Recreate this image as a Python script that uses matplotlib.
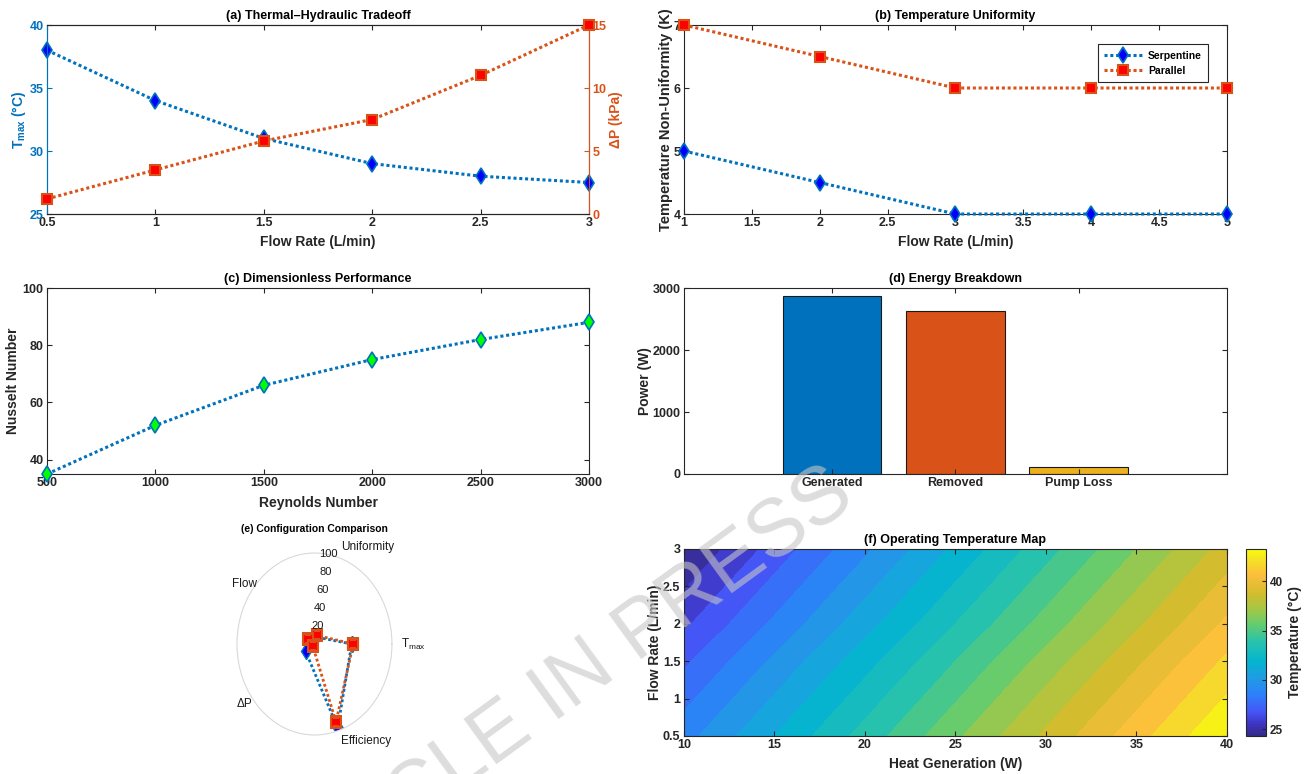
import numpy as np
import matplotlib.pyplot as plt
from matplotlib.colors import LinearSegmentedColormap, Normalize
import matplotlib.cm as cm

# ---- data ----
flow_a = [0.5, 1.0, 1.5, 2.0, 2.5, 3.0]
tmax_a = [38, 34, 31, 29, 28, 27.5]
dp_a = [1.2, 3.5, 5.8, 7.5, 11.0, 15.0]

flow_b = [1, 2, 3, 4, 5]
serp_b = [5.0, 4.5, 4.0, 4.0, 4.0]
par_b = [7.0, 6.5, 6.0, 6.0, 6.0]

re_c = [500, 1000, 1500, 2000, 2500, 3000]
nu_c = [35, 52, 66, 75, 82, 88]

energy_labels = ['Generated', 'Removed', 'Pump Loss']
energy_vals = [2870, 2630, 110]

radar_labels = ['T$_{max}$', 'Uniformity', 'Flow', '\u0394P', 'Efficiency']
radar_serp = [48, 8, 6, 14, 97]
radar_par = [50, 10, 10, 3, 90]
radar_ticks = [20, 40, 60, 80, 100]

heat_f = [10, 15, 20, 25, 30, 35, 40]
flow_f = [0.5, 1.0, 1.5, 2.0, 2.5, 3.0]
temp_f = [
    [28.9, 31.3, 33.7, 36.1, 38.5, 40.9, 43.3],
    [28.0, 30.4, 32.8, 35.2, 37.6, 40.0, 42.4],
    [27.1, 29.5, 31.9, 34.3, 36.7, 39.1, 41.5],
    [26.1, 28.5, 30.9, 33.3, 35.7, 38.1, 40.5],
    [25.2, 27.6, 30.0, 32.4, 34.8, 37.2, 39.6],
    [24.3, 26.7, 29.1, 31.5, 33.9, 36.3, 38.7],
]

# ---- style ----
plt.rcParams['font.family'] = ['Liberation Sans', 'DejaVu Sans']
plt.rcParams['mathtext.default'] = 'regular'
plt.rcParams['font.weight'] = 'bold'
plt.rcParams['axes.labelweight'] = 'bold'
plt.rcParams['axes.titleweight'] = 'bold'
plt.rcParams['font.size'] = 9
plt.rcParams['axes.titlesize'] = 9
plt.rcParams['axes.labelsize'] = 10
plt.rcParams['xtick.direction'] = 'in'
plt.rcParams['ytick.direction'] = 'in'
plt.rcParams['xtick.top'] = True
plt.rcParams['ytick.right'] = True
plt.rcParams['xtick.major.size'] = 3.5
plt.rcParams['ytick.major.size'] = 3.5
plt.rcParams['xtick.major.pad'] = 2.5
plt.rcParams['ytick.major.pad'] = 2.5
plt.rcParams['axes.edgecolor'] = '0.15'
plt.rcParams['axes.linewidth'] = 0.8
plt.rcParams['xtick.color'] = '0.15'
plt.rcParams['ytick.color'] = '0.15'
plt.rcParams['axes.labelcolor'] = '0.15'
plt.rcParams['axes.titlepad'] = 4

BLUE = (0, 0.447, 0.741)
ORANGE = (0.85, 0.325, 0.098)
YELLOW = (0.929, 0.694, 0.125)
DOT = (0, (1, 0.9))

serp_style = dict(color=BLUE, lw=2.2, ls=DOT, marker='d', ms=8,
                  mfc=(0, 0, 1), mec=BLUE, mew=1.2)
par_style = dict(color=ORANGE, lw=2.2, ls=DOT, marker='s', ms=6.5,
                 mfc=(1, 0, 0), mec=ORANGE, mew=1.5)

fig = plt.figure(figsize=(13.1, 7.74), dpi=100)

# (a)
ax = fig.add_axes([0.0359, 0.7235, 0.4137, 0.2442])
ax.plot(flow_a, tmax_a, **serp_style, clip_on=False, zorder=3)
ax.set_xlim(0.5, 3)
ax.set_ylim(25, 40)
ax.set_yticks([25, 30, 35, 40])
ax.set_xticks([0.5, 1, 1.5, 2, 2.5, 3])
ax.set_xticklabels(['0.5', '1', '1.5', '2', '2.5', '3'])
ax.tick_params(axis='y', colors=BLUE, right=False)
ax.spines['left'].set_color(BLUE)
ax.set_ylabel('T$_{max}$ (\u00b0C)', color=BLUE, labelpad=1)
ax.set_xlabel('Flow Rate (L/min)', labelpad=4)
ax.set_title('(a) Thermal\u2013Hydraulic Tradeoff')
ax2 = ax.twinx()
ax2.plot(flow_a, dp_a, **par_style, clip_on=False, zorder=3)
ax2.set_ylim(0, 15)
ax2.set_yticks([0, 5, 10, 15])
ax2.tick_params(axis='y', colors=ORANGE, left=False, right=True)
ax2.spines['right'].set_color(ORANGE)
ax2.spines['left'].set_color(BLUE)
ax2.set_ylabel('\u0394P (kPa)', color=ORANGE, labelpad=2)

# (b)
ax = fig.add_axes([0.5221, 0.7235, 0.4145, 0.2442])
ax.plot(flow_b, serp_b, **serp_style, clip_on=False, zorder=3, label='Serpentine')
ax.plot(flow_b, par_b, **par_style, clip_on=False, zorder=3, label='Parallel')
ax.set_xlim(1, 5)
ax.set_ylim(4, 7)
ax.set_yticks([4, 5, 6, 7])
ax.set_xticks([1, 1.5, 2, 2.5, 3, 3.5, 4, 4.5, 5])
ax.set_xticklabels(['1', '1.5', '2', '2.5', '3', '3.5', '4', '4.5', '5'])
ax.set_ylabel('Temperature Non-Uniformity (K)', labelpad=0, fontsize=10.5)
ax.set_xlabel('Flow Rate (L/min)', labelpad=4)
ax.set_title('(b) Temperature Uniformity')
leg = ax.legend(loc='upper right', bbox_to_anchor=(0.975, 0.925), fontsize=7.5,
                fancybox=False, edgecolor='0.15', framealpha=1, handlelength=3.6,
                borderpad=0.6, labelspacing=0.5, handletextpad=0.6)
leg.get_frame().set_linewidth(0.8)

# (c)
ax = fig.add_axes([0.0359, 0.3876, 0.4137, 0.2403])
ax.plot(re_c, nu_c, color=BLUE, lw=2.2, ls=DOT, marker='d', ms=8,
        mfc=(0, 1, 0), mec=BLUE, mew=1.2, clip_on=False, zorder=3)
ax.set_xlim(500, 3000)
ax.set_ylim(35, 100)
ax.set_yticks([40, 60, 80, 100])
ax.set_xticks([500, 1000, 1500, 2000, 2500, 3000])
ax.set_ylabel('Nusselt Number', labelpad=2)
ax.set_xlabel('Reynolds Number', labelpad=5)
ax.set_title('(c) Dimensionless Performance')

# (d)
ax = fig.add_axes([0.5221, 0.3876, 0.4145, 0.2403])
pos = np.arange(1, len(energy_vals) + 1)
ax.bar(pos, energy_vals, width=0.8, color=[BLUE, ORANGE, YELLOW],
       edgecolor='0.1', linewidth=0.8)
ax.set_xlim(-0.2, 4.2)
ax.set_ylim(0, 3000)
ax.set_yticks([0, 1000, 2000, 3000])
ax.set_xticks(pos)
ax.set_xticklabels(energy_labels)
ax.set_ylabel('Power (W)', labelpad=0)
ax.set_title('(d) Energy Breakdown')

# (e)
ax = fig.add_axes([0.1809, 0.0504, 0.1183, 0.2351], projection='polar')
ang = np.linspace(0, 2 * np.pi, len(radar_labels), endpoint=False)
ang_c = np.append(ang, ang[0])
ax.plot(ang_c, radar_serp + radar_serp[:1], color=BLUE, lw=2, ls=DOT,
        marker='d', ms=8, mfc=(0, 0, 1), mec=BLUE, mew=1)
ax.plot(ang_c, radar_par + radar_par[:1], color=ORANGE, lw=2, ls=DOT,
        marker='s', ms=6.5, mfc=(1, 0, 0), mec=ORANGE, mew=1.5)
ax.set_aspect('auto')
ax.set_ylim(0, 100)
ax.set_yticks(radar_ticks)
ax.set_yticklabels([])
ax.set_xticks([])
ax.grid(False)
ax.spines['polar'].set_color('0.85')
ax.spines['polar'].set_linewidth(0.8)
for r in radar_ticks:
    ax.text(np.deg2rad(80), r, str(r), ha='center', va='center', fontsize=8,
            fontweight='normal', color='0.1')
for a, lab in zip(ang, radar_labels):
    ha = 'center' if np.cos(a) < -0.5 else 'left'
    ax.text(a, 112, lab, ha=ha, va='center', fontsize=8.5,
            fontweight='normal', color='0.1')
ax.set_title('(e) Configuration Comparison', y=1.085, fontsize=7.5)

# (f)
parula = LinearSegmentedColormap.from_list('parula', [
    (0.00, (0.2081, 0.1663, 0.5292)),
    (0.06, (0.2420, 0.2000, 0.7500)),
    (0.13, (0.2700, 0.3400, 0.9700)),
    (0.22, (0.1800, 0.5000, 0.9800)),
    (0.30, (0.1300, 0.6000, 0.9000)),
    (0.40, (0.0200, 0.7100, 0.8100)),
    (0.50, (0.1500, 0.7600, 0.6800)),
    (0.60, (0.4000, 0.8000, 0.4300)),
    (0.68, (0.6500, 0.7800, 0.2700)),
    (0.76, (0.8200, 0.7400, 0.1800)),
    (0.86, (0.9900, 0.7400, 0.2400)),
    (0.94, (0.9600, 0.8800, 0.1500)),
    (1.00, (0.9769, 0.9839, 0.0538)),
])
ax = fig.add_axes([0.5221, 0.0491, 0.4145, 0.2416])
temp = np.array(temp_f)
norm = Normalize(temp.min(), temp.max())
levels = np.linspace(temp.min(), temp.max(), 20)
ax.contourf(heat_f, flow_f, temp, levels=levels, cmap=parula, norm=norm)
ax.set_xlim(10, 40)
ax.set_ylim(0.5, 3)
ax.set_xticks([10, 15, 20, 25, 30, 35, 40])
ax.set_yticks([0.5, 1, 1.5, 2, 2.5, 3])
ax.set_yticklabels(['0.5', '1', '1.5', '2', '2.5', '3'])
ax.set_xlabel('Heat Generation (W)', labelpad=4)
ax.set_ylabel('Flow Rate (L/min)', labelpad=1)
ax.set_title('(f) Operating Temperature Map')
cax = fig.add_axes([0.9511, 0.0491, 0.0153, 0.2416])
cb = fig.colorbar(cm.ScalarMappable(norm=norm, cmap=parula), cax=cax,
                  ticks=[25, 30, 35, 40])
cb.outline.set_linewidth(0.8)
cb.outline.set_edgecolor('0.15')
cax.tick_params(direction='in', length=3, labelsize=8.5)
cb.set_label('Temperature (\u00b0C)', fontsize=10, labelpad=4)

# watermark
fig.text(0.418, 0.093, 'ARTICLE IN PRESS', rotation=36, fontsize=58,
         fontweight='normal', color='0.78', alpha=0.6,
         ha='center', va='center', rotation_mode='anchor', zorder=10)

fig.savefig('out.png', dpi=100)
